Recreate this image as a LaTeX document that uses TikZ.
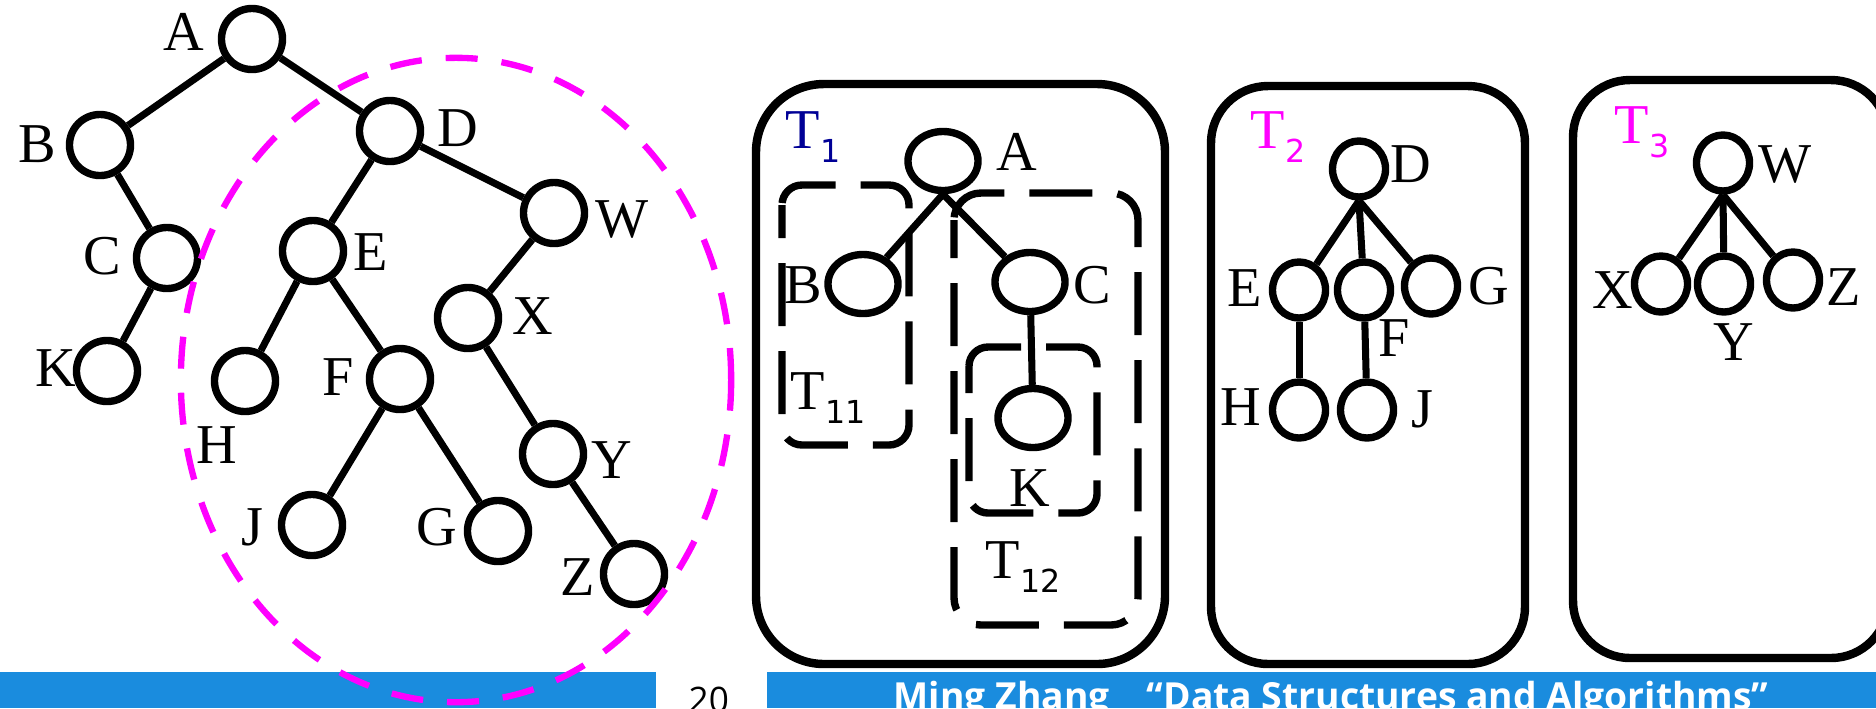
\documentclass[tikz,border=0pt]{standalone}
\usepackage{fontspec}
\setmainfont{Liberation Serif}
\newfontfamily\subfont{DejaVu Sans}
\newfontfamily\footfont{Open Sans}
\usepackage{tikz}
\usetikzlibrary{shapes.geometric}

\definecolor{barblue}{RGB}{26,140,222}
\definecolor{tnavy}{RGB}{0,0,150}
\definecolor{pink}{RGB}{255,0,255}
\newcommand{\tname}[1]{T\raisebox{-4pt}{\subfont\fontsize{9}{9}\selectfont #1}}

\begin{document}
\begin{tikzpicture}[x=0.01cm, y=-0.01cm,
  vtx/.style={draw, circle, line width=2.1pt, minimum size=0.61cm, inner sep=0pt},
  wide/.style={draw, ellipse, line width=2.1pt, minimum width=0.70cm, minimum height=0.59cm, inner sep=0pt},
  tall/.style={draw, ellipse, line width=2.1pt, minimum width=0.53cm, minimum height=0.56cm, inner sep=0pt},
  lbl/.style={inner sep=0pt, font=\fontsize{16}{18}\selectfont},
  tlbl/.style={inner sep=0pt, anchor=base west, font=\fontsize{16}{18}\selectfont},
  link/.style={line width=2pt},
  panel/.style={line width=2.4pt, rounded corners=0.6cm},
  part/.style={line width=2.1pt, dash pattern=on 0.63cm off 0.25cm},
  hull/.style={draw=pink, ellipse, line width=1.8pt, dash pattern=on 0.32cm off 0.24cm,
    minimum width=5.5cm, minimum height=6.44cm, inner sep=0pt}
]
\useasboundingbox (0,0) rectangle (1876,708);
\clip (0,0) rectangle (1876,708);

% whole tree
\node[vtx] (A) at (252,39) {};
\node[vtx] (B) at (100,145) {};
\node[vtx] (C) at (167,258) {};
\node[vtx] (K) at (107,371) {};
\node[vtx] (D) at (390,131) {};
\node[vtx] (E) at (313,251) {};
\node[vtx] (H) at (245,381) {};
\node[vtx] (F) at (400,379) {};
\node[vtx] (J) at (312,525) {};
\node[vtx] (G) at (498,531) {};
\node[vtx] (W) at (554,213) {};
\node[vtx] (X) at (468,318) {};
\node[vtx] (Y) at (553,454) {};
\node[vtx] (Z) at (634,574) {};
\node[lbl] (lA) at (184,32) {A};
\node[lbl] (lB) at (37,144) {B};
\node[lbl] (lC) at (102,256) {C};
\node[lbl] (lK) at (56,368) {K};
\node[lbl] (lD) at (458,128) {D};
\node[lbl] (lE) at (371,252) {E};
\node[lbl] (lH) at (217,445) {H};
\node[lbl] (lF) at (338,377) {F};
\node[lbl] (lJ) at (252,527) {J};
\node[lbl] (lG) at (437,527) {G};
\node[lbl] (lW) at (622,219) {W};
\node[lbl] (lX) at (533,316) {X};
\node[lbl] (lY) at (612,460) {Y};
\node[lbl] (lZ) at (578,577) {Z};
\draw[link] (A) -- (B);
\draw[link] (A) -- (D);
\draw[link] (B) -- (C);
\draw[link] (C) -- (K);
\draw[link] (D) -- (E);
\draw[link] (D) -- (W);
\draw[link] (E) -- (H);
\draw[link] (E) -- (F);
\draw[link] (F) -- (J);
\draw[link] (F) -- (G);
\draw[link] (W) -- (X);
\draw[link] (X) -- (Y);
\draw[link] (Y) -- (Z);

% T1
\draw[panel, rounded corners=0.68cm] (756,84) rectangle (1165,664);
\node[tlbl, text=tnavy] (t1) at (785,148) {\tname{1}};
\node[wide] (a1) at (943,161) {};
\node[wide] (b1) at (863,284) {};
\node[wide] (c1) at (1030,282) {};
\node[wide] (k1) at (1033,418) {};
\node[lbl] (la1) at (1017,152) {A};
\node[lbl] (lb1) at (803,285) {B};
\node[lbl] (lc1) at (1092,285) {C};
\node[lbl] (lk1) at (1030,488) {K};
\draw[link] (a1.south) -- (b1);
\draw[link] (a1.south) -- (c1);
\draw[link] (c1) -- (k1);
\draw[part, dash phase=0.30cm, rounded corners=0.2cm] (782,185) rectangle (909,445);
\draw[part, dash phase=0.25cm, rounded corners=0.27cm] (954,193) rectangle (1138,625);
\draw[part, dash phase=0.36cm, rounded corners=0.19cm] (969,347) rectangle (1097,513);
\node[tlbl] (t11) at (790,409) {\tname{11}};
\node[tlbl] (t12) at (985,578) {\tname{12}};

% T2
\draw[panel, rounded corners=0.57cm] (1211,86) rectangle (1525,664);
\node[tlbl, text=pink] (t2) at (1250,148) {\tname{2}};
\node[tall] (d2) at (1359,169) {};
\node[tall] (e2) at (1299,290) {};
\node[tall] (f2) at (1364,290) {};
\node[tall] (g2) at (1431,286) {};
\node[tall] (h2) at (1299,410) {};
\node[tall] (j2) at (1367,410) {};
\node[lbl] (ld2) at (1411,164) {D};
\node[lbl] (le2) at (1245,288) {E};
\node[lbl] (lf2) at (1394,338) {F};
\node[lbl] (lg2) at (1489,286) {G};
\node[lbl] (lh2) at (1241,407) {H};
\node[lbl] (lj2) at (1422,409) {J};
\draw[link] (d2.south) -- (e2);
\draw[link] (d2.south) -- (f2);
\draw[link] (d2.south) -- (g2);
\draw[link] (e2) -- (h2);
\draw[link] (f2) -- (j2);

% T3
\draw[panel, rounded corners=0.57cm] (1573,80) rectangle (1888,658);
\node[tlbl, text=pink] (t3) at (1614,143) {\tname{3}};
\node[tall] (w3) at (1723,163) {};
\node[tall] (x3) at (1661,284) {};
\node[tall] (y3) at (1724,284) {};
\node[tall] (z3) at (1793,280) {};
\node[lbl] (lw3) at (1785,164) {W};
\node[lbl] (lx3) at (1613,290) {X};
\node[lbl] (ly3) at (1734,342) {Y};
\node[lbl] (lz3) at (1844,287) {Z};
\draw[link] (w3.south) -- (x3);
\draw[link] (w3.south) -- (y3);
\draw[link] (w3.south) -- (z3);

% footer
\fill[barblue] (0,672) rectangle (656,708);
\fill[barblue] (767,672) rectangle (1876,708);
\node[inner sep=0pt, anchor=base west, font=\footfont\fontsize{10}{12}\selectfont] (page) at (688,712) {20};
\node[inner sep=0pt, anchor=base west, text=white, font=\footfont\bfseries\fontsize{10.6}{13}\selectfont]
  (credit) at (893,709) {Ming Zhang\quad “Data Structures and Algorithms”};

\node[hull] (sub) at (456,380) {};
\end{tikzpicture}
\end{document}
